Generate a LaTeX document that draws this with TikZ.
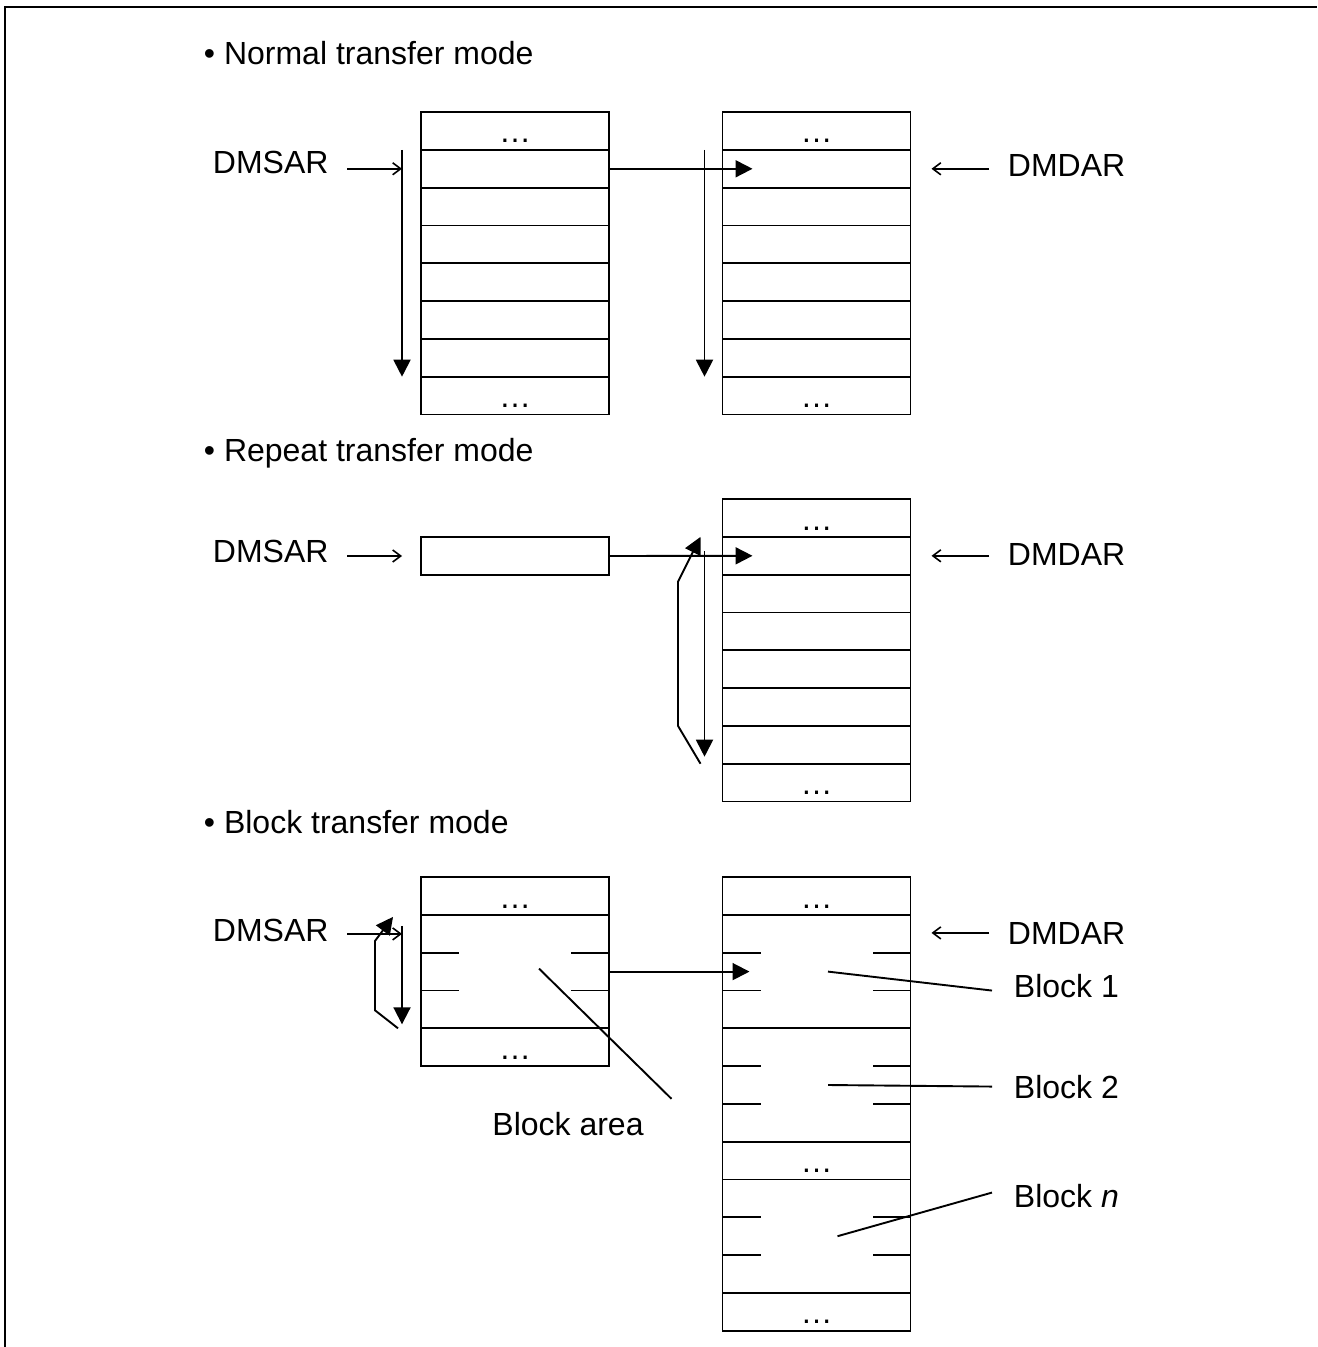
\documentclass[tikz,border=0pt]{standalone}
\usepackage{fontspec}
\setmainfont{Liberation Sans}
\usetikzlibrary{arrows.meta, positioning}

\begin{document}
\begin{tikzpicture}[
        x=0.5pt, y=-0.5pt,
        font=\fontsize{16}{19}\selectfont,
        line width=0.95pt,
        cell/.style={draw, minimum width=94pt, minimum height=18.9pt, inner sep=0pt,
                     outer sep=0pt, text height=12pt, text depth=0pt},
        blk/.style={cell, minimum height=56.7pt},
        lbl/.style={inner sep=0pt, anchor=base west},
        ptr/.style={-{Straight Barb[length=4pt, width=6pt]}, shorten <=9pt, line width=0.8pt},
        adv/.style={-{Triangle[length=8.5pt, width=8.5pt]}},
      ]
        \useasboundingbox (0,0) rectangle (1317,1347);
        \draw[line width=1pt] (5,1347) -- (5,7.5) -- (1317,7.5);

        \node[lbl] (tn) at (203,65) {• Normal transfer mode};
        \node[cell] (ns1) at (515,131) {…};
        \foreach \i [count=\j from 2] in {1,...,6}
          \node[cell, below=0pt of ns\i] (ns\j) {};
        \node[cell, below=0pt of ns7] (ns8) {…};
        \node[cell] (nd1) at (816.5,131) {…};
        \foreach \i [count=\j from 2] in {1,...,6}
          \node[cell, below=0pt of nd\i] (nd\j) {};
        \node[cell, below=0pt of nd7] (nd8) {…};
        \node[lbl] (lsn) at (212,174) {DMSAR};
        \node[lbl] (ldn) at (1007,177) {DMDAR};
        \draw[ptr] (lsn.east |- ns2.west) -- ([xshift=-9.5pt]ns2.west);
        \draw[adv] ([xshift=-9.5pt]ns2.north west) -- ([xshift=-9.5pt]ns8.north west);
        \draw[adv] (ns2.east) -- ([xshift=15pt]nd2.west);
        \draw[adv] ([xshift=-9pt]nd2.north west) -- ([xshift=-9pt]nd8.north west);
        \draw[ptr] (ldn.west |- nd2.east) -- ([xshift=10.5pt]nd2.east);

        \node[lbl] (tr) at (203,461) {• Repeat transfer mode};
        \node[cell] (rs) at (515,556) {};
        \node[cell] (rd1) at (816.5,518) {…};
        \foreach \i [count=\j from 2] in {1,...,6}
          \node[cell, below=0pt of rd\i] (rd\j) {};
        \node[cell, below=0pt of rd7] (rd8) {…};
        \node[lbl] (lsr) at (212,562) {DMSAR};
        \node[lbl] (ldr) at (1007,565) {DMDAR};
        \draw[ptr] (lsr.east |- rs.west) -- ([xshift=-9.5pt]rs.west);
        \draw[adv] (rs.east) -- ([xshift=15pt]rd2.west);
        \draw[adv] ([xshift=-9pt, yshift=2.5pt]rd2.west) -- ([xshift=-9pt, yshift=3.5pt]rd8.north west);
        \draw[adv] ([xshift=-11pt]rd8.north west) -- ([xshift=-22.25pt]rd7.north west)
          -- ([xshift=-22.25pt, yshift=-3.5pt]rd3.north west) -- ([xshift=-11pt]rd2.north west);
        \draw[ptr] (ldr.west |- rd2.east) -- ([xshift=10.5pt]rd2.east);

        \node[lbl] (tb) at (203,833) {• Block transfer mode};
        \node[cell] (bs1) at (515,896) {…};
        \node[blk, below=0pt of bs1] (bs2) {};
        \node[cell, below=0pt of bs2] (bs3) {…};
        \node[cell] (bd1) at (816.5,896) {…};
        \node[blk, below=0pt of bd1] (bd2) {};
        \node[blk, below=0pt of bd2] (bd3) {};
        \node[cell, below=0pt of bd3] (bd4) {…};
        \node[blk, below=0pt of bd4] (bd5) {};
        \node[cell, below=0pt of bd5] (bd6) {…};
        \foreach \b in {bs2, bd2, bd3, bd5}
          \foreach \k in {1,2}
            \draw ([yshift=-\k*18.9pt]\b.north west) -- ++(19pt,0pt)
                  ([yshift=-\k*18.9pt]\b.north east) -- ++(-19pt,0pt);
        \coordinate (bsp) at ([xshift=-9.5pt, yshift=-9.5pt]bs2.north west);
        \coordinate (bdp) at ([xshift=10.5pt, yshift=-9pt]bd2.north east);
        \node[lbl] (lsb) at (212,941) {DMSAR};
        \node[lbl] (ldb) at (1007,944) {DMDAR};
        \draw[ptr] (lsb.east |- bsp) -- (bsp);
        \draw[adv] ([xshift=-9.5pt, yshift=-5.5pt]bs2.north west) -- ([xshift=-9.5pt, yshift=2pt]bs2.south west);
        \draw[adv] ([xshift=-11.5pt]bs2.south west) -- ([xshift=-23pt, yshift=9pt]bs2.south west)
          -- ([xshift=-23pt, yshift=-13pt]bs2.north west) -- ([xshift=-14pt, yshift=-1pt]bs2.north west);
        \draw[adv] (bs2.east) -- ([xshift=13.5pt]bd2.west);
        \draw[ptr] (ldb.west |- bdp) -- (bdp);
        \node[lbl, anchor=base] (bar) at (568,1135) {Block area};
        \draw ([xshift=13.5pt, yshift=6pt]bar.north east) -- ([xshift=12pt, yshift=1.5pt]bs2.center);
        \node[lbl] (b1) at (1013,997) {Block 1};
        \node[lbl] (b2) at (1013,1098) {Block 2};
        \node[lbl] (bn) at (1013,1207) {Block \textit{n}};
        \draw ([xshift=-10.5pt, yshift=-2.5pt]b1.west) -- ([xshift=5.75pt]bd2.center);
        \draw ([xshift=-10.5pt]b2.west) -- ([xshift=5.75pt]bd3.center);
        \draw ([xshift=-10.5pt, yshift=1.5pt]bn.west) -- ([xshift=10.5pt]bd5.center);
      \end{tikzpicture}
\end{document}
